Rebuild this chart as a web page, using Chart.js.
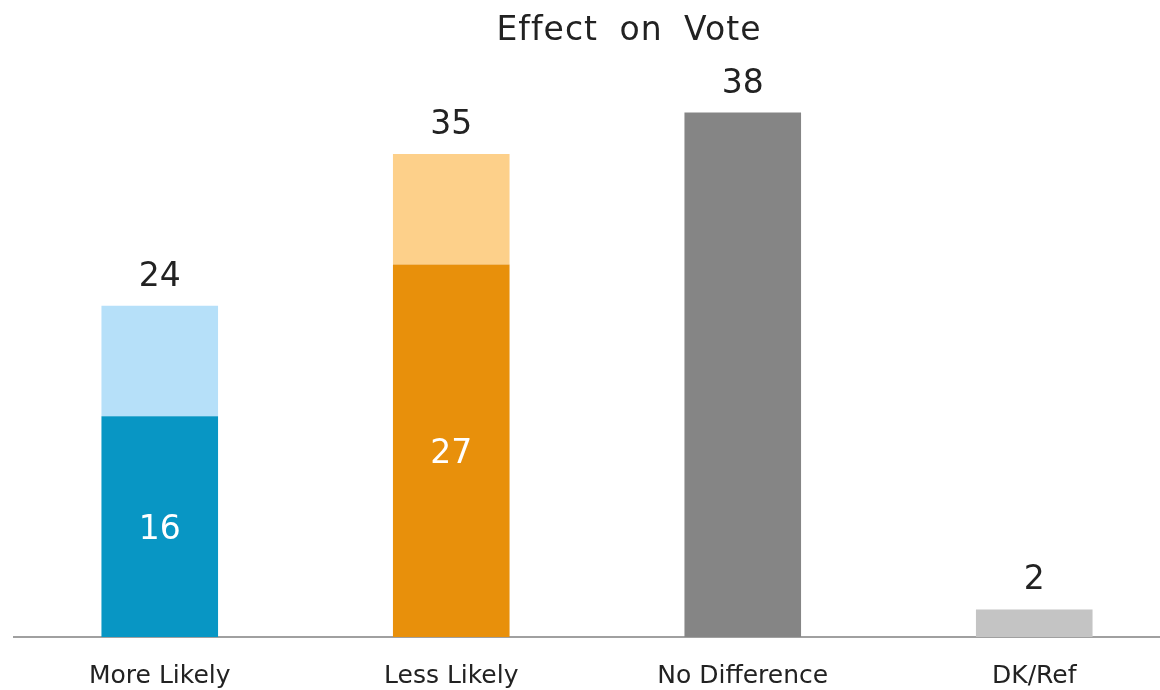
<!DOCTYPE html>
<html>
<head>
<meta charset="utf-8">
<script src="https://cdn.jsdelivr.net/npm/chart.js@4.4.1/dist/chart.umd.min.js"></script>
<style>
  html, body { margin: 0; padding: 0; background: #fff; overflow: hidden; }
  #wrap { width: 1180px; height: 690px; position: relative; }
</style>
</head>
<body>
<div id="wrap"><canvas id="chart_effectOnVote"></canvas></div>
<script>
// data
var chartTitle = 'Effect on Vote';
var categories = ['More Likely', 'Less Likely', 'No Difference', 'DK/Ref'];
var strongValues = [16, 27, 38, 2];
var somewhatValues = [8, 8, 0, 0];
var strongColors = ['#0896c4', '#e8900b', '#858585', '#c4c4c4'];
var somewhatColors = ['#b6e0f9', '#fdd08a', '#858585', '#c4c4c4'];

var labelPlugin = {
    id: 'valueLabels',
    afterDatasetsDraw: function (chart) {
        var ctx = chart.ctx;
        var base = chart.getDatasetMeta(0);
        ctx.save();
        // title, drawn a bit right of centre as in the source
        ctx.font = '33px "DejaVu Sans"';
        ctx.textAlign = 'center';
        ctx.textBaseline = 'alphabetic';
        ctx.fillStyle = '#222';
        ctx.letterSpacing = '1px';
        ctx.wordSpacing = '10px';
        ctx.fillText(chartTitle, 629, 40);
        ctx.letterSpacing = '0px';
        ctx.wordSpacing = '0px';

        for (var i = 0; i < categories.length; i++) {
            var total = strongValues[i] + somewhatValues[i];
            var y = chart.scales.y.getPixelForValue(total);
            var x = base.data[i].x;
            ctx.fillStyle = '#222';
            ctx.fillText(String(total), x, y - 20);
            if (somewhatValues[i] > 0) {
                var bar = base.data[i];
                ctx.fillStyle = '#ffffff';
                ctx.fillText(String(strongValues[i]), x, (bar.y + bar.base) / 2 + 12);
            }
        }
        ctx.restore();
    }
};

var chart_effectOnVote = new Chart(document.getElementById('chart_effectOnVote'), {
    type: 'bar',
    data: {
        labels: categories,
        datasets: [
            {
                label: 'Strong',
                data: strongValues,
                backgroundColor: strongColors,
                borderWidth: 0,
                barPercentage: 0.4,
                categoryPercentage: 1.0
            },
            {
                label: 'Somewhat',
                data: somewhatValues,
                backgroundColor: somewhatColors,
                borderWidth: 0,
                barPercentage: 0.4,
                categoryPercentage: 1.0
            }
        ]
    },
    options: {
        animation: false,
        responsive: true,
        maintainAspectRatio: false,
        layout: {
            padding: { left: 14, right: 0, top: 85, bottom: -26 }
        },
        plugins: {
            legend: { display: false },
            tooltip: { enabled: false },
            title: { display: false }
        },
        scales: {
            x: {
                stacked: true,
                grid: { display: false, drawTicks: false },
                border: { display: true, color: '#a0a0a0', width: 2 },
                ticks: {
                    color: '#222',
                    padding: 27,
                    font: { family: 'DejaVu Sans', size: 25, lineHeight: 1 }
                }
            },
            y: {
                stacked: true,
                display: false,
                min: 0,
                max: 40
            }
        }
    },
    plugins: [labelPlugin, {
        id: 'whiteBackground',
        beforeDraw: function (chart) {
            var ctx = chart.canvas.getContext('2d');
            ctx.save();
            ctx.globalCompositeOperation = 'destination-over';
            ctx.fillStyle = 'white';
            ctx.fillRect(0, 0, chart.canvas.width, chart.canvas.height);
            ctx.restore();
        }
    }]
});
</script>
</body>
</html>
